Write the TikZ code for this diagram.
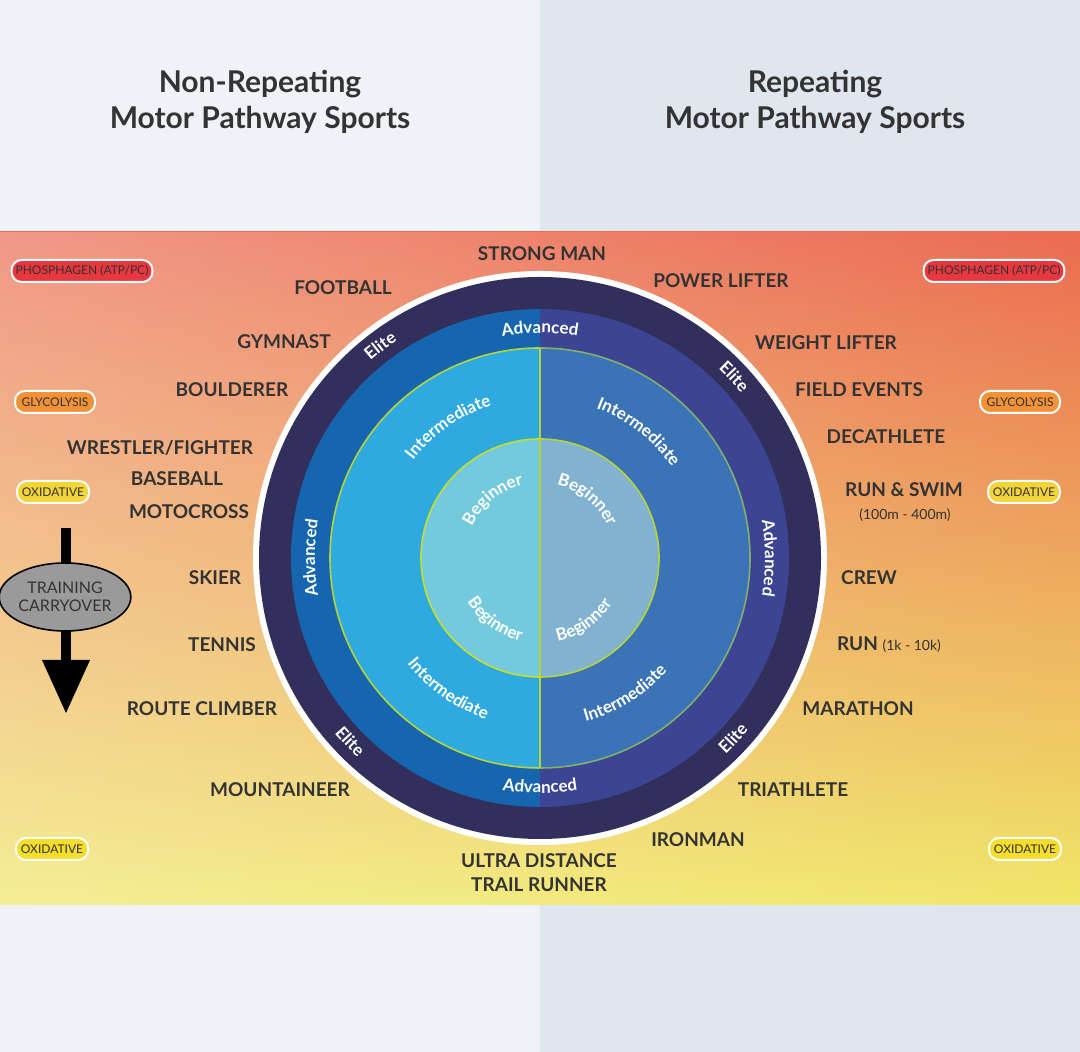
\documentclass[tikz,border=0pt]{standalone}
\usepackage{fontspec}
\setmainfont{Lato}
\usetikzlibrary{decorations.text,fadings,shapes.geometric}
\definecolor{txt}{HTML}{333333}
\definecolor{bgL}{HTML}{EFF3F8}
\definecolor{bgR}{HTML}{DFE6EE}
\definecolor{ringD}{HTML}{332F5C}
\definecolor{advL}{HTML}{1566AE}
\definecolor{advR}{HTML}{3C4593}
\definecolor{intL}{HTML}{2FAAE0}
\definecolor{intR}{HTML}{3A74B6}
\definecolor{begL}{HTML}{74CADD}
\definecolor{begR}{HTML}{81B3D0}
\definecolor{lime}{HTML}{B6D43A}
\definecolor{bRed}{HTML}{E8373F}
\definecolor{bOra}{HTML}{F29238}
\definecolor{bYel}{HTML}{F2D43A}
\newcommand\ringfont{\fontsize{8.5}{9}\selectfont\bfseries}
\newcommand\ringtext[4]{\path[decorate,decoration={text along path,text={|\ringfont|#4},text align=center,text color=white}] (540,494)+(#2:#1) arc[start angle=#2,end angle=#3,radius=#1];}
\begin{document}
\begin{tikzpicture}[x=0.5pt,y=0.5pt,
 sport/.style={text=txt,font=\fontsize{9.5}{11}\selectfont\bfseries,inner sep=0pt,align=center},
 title/.style={text=txt,font=\fontsize{15}{18}\selectfont\bfseries,align=center},
 badge/.style={draw=white,line width=1pt,rounded corners=5pt,minimum height=11pt,inner sep=2pt,text=txt,font=\fontsize{6}{7}\selectfont}]
\useasboundingbox (0,0) rectangle (1080,1052);
\fill[bgL] (0,0) rectangle (540,1052);
\fill[bgR] (540,0) rectangle (1080,1052);
\shade[top color={rgb,255:red,235;green,108;blue,82}, bottom color={rgb,255:red,240;green,231;blue,105}] (0,147) rectangle (1080,820);
\fill[white,opacity=0.3,path fading=east] (0,147) rectangle (1080,820);
\node[title] (t1) at (260,950) {Non-Repeating\\Motor Pathway Sports};
\node[title] (t2) at (815,950) {Repeating\\Motor Pathway Sports};
% rings
\fill[white] (540,494) circle[radius=287];
\fill[ringD] (540,494) circle[radius=281];
\fill[advL] (540,494)+(90:249) arc[start angle=90,end angle=270,radius=249] -- cycle;
\fill[advR] (540,494)+(-90:249) arc[start angle=-90,end angle=90,radius=249] -- cycle;
\fill[intL,draw=lime,line width=0.8pt] (540,494)+(90:210) arc[start angle=90,end angle=270,radius=210] -- cycle;
\fill[intR,draw=lime!60!intR,line width=0.8pt] (540,494)+(-90:210) arc[start angle=-90,end angle=90,radius=210] -- cycle;
\fill[begL,draw=lime!80!yellow,line width=0.8pt] (540,494)+(90:119) arc[start angle=90,end angle=270,radius=119] -- cycle;
\fill[begR,draw=lime,line width=0.8pt] (540,494)+(-90:119) arc[start angle=-90,end angle=90,radius=119] -- cycle;
\draw[lime,line width=0.8pt] (540,704) -- (540,284);
% ring labels
\ringtext{225}{120}{60}{Advanced}
\ringtext{225}{210}{150}{Advanced}
\ringtext{225}{30}{-30}{Advanced}
\ringtext{235}{240}{300}{Advanced}
\ringtext{260}{147}{107}{Elite}
\ringtext{260}{63}{23}{Elite}
\ringtext{270}{204}{244}{Elite}
\ringtext{270}{297}{337}{Elite}
\ringtext{160}{160}{90}{Intermediate}
\ringtext{160}{87}{17}{Intermediate}
\ringtext{170}{200}{270}{Intermediate}
\ringtext{170}{267}{337}{Intermediate}
\ringtext{75}{180}{78}{Beginner}
\ringtext{75}{102}{0}{Beginner}
\ringtext{85}{183}{285}{Beginner}
\ringtext{85}{254}{356}{Beginner}
% sports
\node[sport] (s1) at (542,798) {STRONG MAN};
\node[sport] (s2) at (343,764) {FOOTBALL};
\node[sport] (s3) at (721,771) {POWER LIFTER};
\node[sport] (s4) at (284,710) {GYMNAST};
\node[sport] (s5) at (826,709) {WEIGHT LIFTER};
\node[sport] (s6) at (232,662) {BOULDERER};
\node[sport] (s7) at (859,662) {FIELD EVENTS};
\node[sport] (s8) at (160,604) {WRESTLER/FIGHTER};
\node[sport] (s9) at (886,615) {DECATHLETE};
\node[sport] (s10) at (177,573) {BASEBALL};
\node[sport] (s11) at (189,540) {MOTOCROSS};
\node[sport] (s12) at (904,562) {RUN \& SWIM};
\node[sport,font=\fontsize{7}{8}\selectfont] (s12b) at (905,537) {(100m - 400m)};
\node[sport] (s13) at (215,474) {SKIER};
\node[sport] (s14) at (869,474) {CREW};
\node[sport] (s15) at (222,407) {TENNIS};
\node[sport] (s16) at (889,407) {RUN {\fontsize{7}{8}\selectfont\mdseries (1k - 10k)}};
\node[sport] (s17) at (202,343) {ROUTE CLIMBER};
\node[sport] (s18) at (858,343) {MARATHON};
\node[sport] (s19) at (280,262) {MOUNTAINEER};
\node[sport] (s20) at (793,262) {TRIATHLETE};
\node[sport] (s21) at (698,212) {IRONMAN};
\node[sport] (s22) at (539,179) {ULTRA DISTANCE\\[1pt]TRAIL RUNNER};
% badges
\node[badge,fill=bRed,minimum width=66pt] (b1) at (82,781) {PHOSPHAGEN (ATP/PC)};
\node[badge,fill=bRed,minimum width=66pt] (b2) at (994,781) {PHOSPHAGEN (ATP/PC)};
\node[badge,fill=bOra,minimum width=40pt] (b3) at (55,650) {GLYCOLYSIS};
\node[badge,fill=bOra,minimum width=40pt] (b4) at (1020,650) {GLYCOLYSIS};
\node[badge,fill=bYel,minimum width=36pt] (b5) at (53,560) {OXIDATIVE};
\node[badge,fill=bYel,minimum width=36pt] (b6) at (1024,560) {OXIDATIVE};
\node[badge,fill=bYel!80!yellow,minimum width=36pt] (b7) at (52,203) {OXIDATIVE};
\node[badge,fill=bYel!80!yellow,minimum width=36pt] (b8) at (1025,203) {OXIDATIVE};
% arrow
\coordinate (a0) at (66,524);
\coordinate (a1) at (66,392);
\draw[black,line width=5pt] (a0) -- (a1);
\fill[black] (42,392) -- (90,392) -- (66,339) -- cycle;
\node[ellipse,draw=black,line width=0.8pt,fill={rgb,255:red,154;green,154;blue,154},minimum width=61pt,minimum height=34pt,inner sep=0pt,align=center,text=txt,font=\fontsize{8}{9}\selectfont] (tc) at (65,455) {TRAINING\\CARRYOVER};
\end{tikzpicture}
\end{document}
